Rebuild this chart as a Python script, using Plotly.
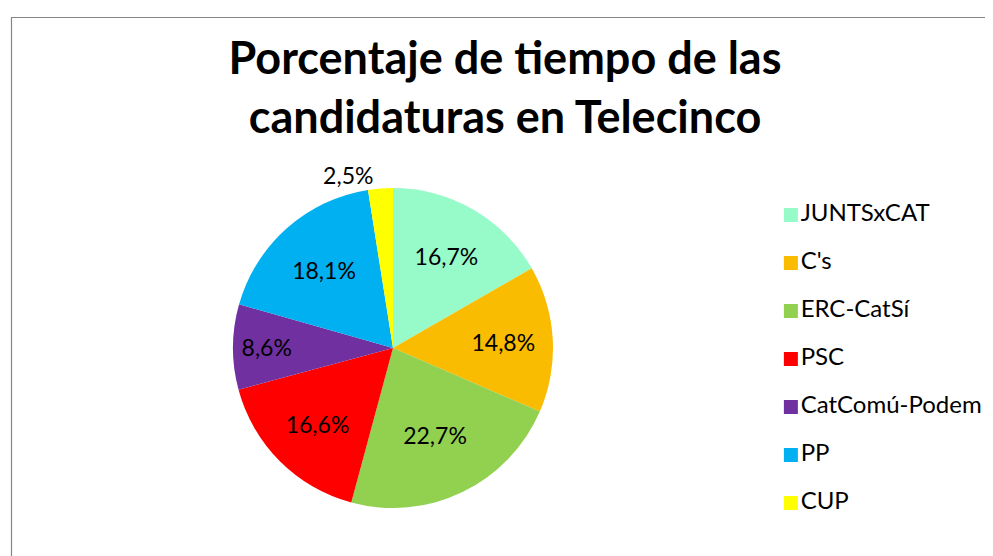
import plotly.graph_objects as go

# Data
parties = ["JUNTSxCAT", "C's", "ERC-CatSí", "PSC", "CatComú-Podem", "PP", "CUP"]
percent = [16.7, 14.8, 22.7, 16.6, 8.6, 18.1, 2.5]
colors = ["#97FAC9", "#FABC00", "#92D050", "#FF0000", "#7030A0", "#00B0F0", "#FFFF00"]
title_lines = ["Porcentaje de tiempo de las", "candidaturas en Telecinco"]

W, H = 993, 556
FONT = "Lato, Carlito, 'Open Sans', sans-serif"

positions = ["outside" if v < 5 else "inside" for v in percent]
R, CX, CY = 160, 385, 340

fig = go.Figure()
fig.add_trace(
    go.Pie(
        labels=parties,
        values=percent,
        sort=False,
        direction="clockwise",
        rotation=0,
        marker=dict(colors=colors, line=dict(width=0)),
        texttemplate="%{value:.1f}%",
        textposition=positions,
        insidetextorientation="horizontal",
        textfont=dict(family=FONT, size=23, color="black"),
        domain=dict(x=[(CX - R) / W, (CX + R) / W],
                    y=[(H - CY - R) / H, (H - CY + R) / H]),
        hoverinfo="label+percent",
        showlegend=False,
    )
)

# Legend drawn as a scatter on its own hidden axes
idx = list(range(len(parties)))
fig.add_trace(
    go.Scatter(
        x=[0] * len(parties),
        y=idx,
        mode="markers+text",
        marker=dict(symbol="square", size=14, color=colors, line=dict(width=0)),
        text=parties,
        textposition="middle right",
        textfont=dict(family=FONT, size=24, color="black"),
        hoverinfo="skip",
        showlegend=False,
        cliponaxis=False,
    )
)

fig.update_layout(
    width=W,
    height=H,
    margin=dict(l=0, r=0, t=0, b=0),
    paper_bgcolor="white",
    plot_bgcolor="rgba(0,0,0,0)",
    separators=",.",
    font=dict(family=FONT, color="black"),
    title=dict(
        text="<b>" + "<br>".join(title_lines) + "</b>",
        x=497 / W,
        xanchor="center",
        y=1 - 66 / H,
        yanchor="top",
        font=dict(family=FONT, size=45, color="black"),
    ),
    xaxis=dict(domain=[0.77, 1.0], range=[-0.08, 0.92], visible=False, fixedrange=True),
    yaxis=dict(domain=[(H - 519) / H, (H - 183) / H], range=[6.5, -0.5],
               visible=False, fixedrange=True),
    shapes=[
        dict(type="rect", xref="paper", yref="paper",
             x0=3.5 / W, x1=1.02, y0=-0.02, y1=1 - 9.5 / H,
             line=dict(color="#868686", width=1.2), fillcolor="rgba(0,0,0,0)",
             layer="below"),
    ],
)

fig.write_html("out.html")
